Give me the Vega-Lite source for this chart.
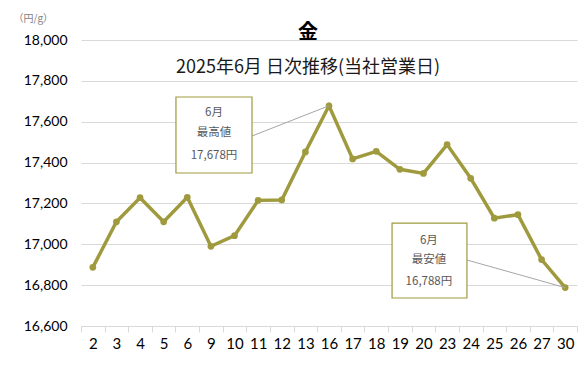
{
  "$schema": "https://vega.github.io/schema/vega-lite/v6.json",
  "width": 496,
  "height": 286,
  "autosize": {"type": "none"},
  "padding": {"left": 81, "top": 40, "right": 8, "bottom": 42},
  "background": "white",
  "config": {"view": {"stroke": null}, "font": "Lato"},
  "title": {
    "text": "金",
    "subtitle": "2025年6月 日次推移(当社営業日)",
    "anchor": "middle",
    "frame": "group",
    "dx": -21,
    "offset": -64,
    "font": "Noto Sans CJK JP",
    "fontSize": 20,
    "fontWeight": "bold",
    "color": "#000000",
    "subtitleFont": "Noto Sans CJK JP",
    "subtitleFontSize": 18,
    "subtitleColor": "#1a1a1a",
    "subtitlePadding": 16
  },
  "datasets": {
    "gold": [
      {"d": "2", "i": 0, "v": 16887},
      {"d": "3", "i": 1, "v": 17110},
      {"d": "4", "i": 2, "v": 17228},
      {"d": "5", "i": 3, "v": 17110},
      {"d": "6", "i": 4, "v": 17230},
      {"d": "9", "i": 5, "v": 16990},
      {"d": "10", "i": 6, "v": 17042},
      {"d": "11", "i": 7, "v": 17215},
      {"d": "12", "i": 8, "v": 17217},
      {"d": "13", "i": 9, "v": 17452},
      {"d": "16", "i": 10, "v": 17678},
      {"d": "17", "i": 11, "v": 17418},
      {"d": "18", "i": 12, "v": 17455},
      {"d": "19", "i": 13, "v": 17367},
      {"d": "20", "i": 14, "v": 17347},
      {"d": "23", "i": 15, "v": 17488},
      {"d": "24", "i": 16, "v": 17323},
      {"d": "25", "i": 17, "v": 17128},
      {"d": "26", "i": 18, "v": 17145},
      {"d": "27", "i": 19, "v": 16925},
      {"d": "30", "i": 20, "v": 16788}
    ],
    "boxes": [
      {"x1": 3.52, "x2": 6.74, "y1": 17721, "y2": 17349},
      {"x1": 12.67, "x2": 15.84, "y1": 17104, "y2": 16737}
    ],
    "leaders": [
      {"x1": 6.74, "y1": 17530, "x2": 10, "y2": 17678},
      {"x1": 15.84, "y1": 16923, "x2": 20, "y2": 16788}
    ],
    "notes": [
      {"x": 5.13, "y": 17643, "t": "6月"},
      {"x": 5.13, "y": 17545, "t": "最高値"},
      {"x": 5.13, "y": 17432, "t": "17,678円"},
      {"x": 14.23, "y": 17016, "t": "6月"},
      {"x": 14.23, "y": 16923, "t": "最安値"},
      {"x": 14.23, "y": 16815, "t": "16,788円"}
    ]
  },
  "resolve": {"axis": {"x": "independent"}},
  "layer": [
    {
      "data": {"name": "gold"},
      "mark": {"type": "line", "color": "#a09a3f", "strokeWidth": 3.5},
      "encoding": {
        "x": {
          "field": "i", "type": "quantitative",
          "scale": {"domain": [-0.5, 20.5], "nice": false, "zero": false},
          "axis": {
            "orient": "bottom",
            "values": [0,1,2,3,4,5,6,7,8,9,10,11,12,13,14,15,16,17,18,19,20],
            "labelExpr": "['2','3','4','5','6','9','10','11','12','13','16','17','18','19','20','23','24','25','26','27','30'][datum.value]",
            "ticks": false, "grid": false, "domain": true, "domainColor": "#d9d9d9", "domainWidth": 1,
            "labelFontSize": 15, "labelColor": "#000000", "labelPadding": 10, "title": null, "labelFont": "Lato"
          }
        },
        "y": {
          "field": "v", "type": "quantitative",
          "scale": {"domain": [16600, 18000], "nice": false, "zero": false},
          "axis": {
            "values": [16600, 16800, 17000, 17200, 17400, 17600, 17800, 18000],
            "labelExpr": "format(datum.value, ',')", "ticks": false, "domain": false,
            "grid": true, "gridColor": "#d9d9d9", "gridWidth": 1,
            "labelFontSize": 14, "labelColor": "#000000", "labelPadding": 14, "labelFont": "Lato",
            "title": "（円/g）", "titleAngle": 0, "titleAlign": "left", "titleBaseline": "middle",
            "titleX": -68, "titleY": -22, "titleFontSize": 10, "titleFontWeight": "normal",
            "titleColor": "#7f7f7f", "titleFont": "Noto Sans CJK JP"
          }
        }
      }
    },
    {
      "data": {"name": "gold"},
      "mark": {"type": "circle", "color": "#a09a3f", "opacity": 1, "size": 45},
      "encoding": {
        "x": {
          "field": "i", "type": "quantitative",
          "axis": {
            "orient": "bottom",
            "values": [-0.5,0.5,1.5,2.5,3.5,4.5,5.5,6.5,7.5,8.5,9.5,10.5,11.5,12.5,13.5,14.5,15.5,16.5,17.5,18.5,19.5,20.5],
            "labels": false, "ticks": true, "tickSize": 6, "tickColor": "#d9d9d9", "domain": false, "grid": false, "title": null
          }
        },
        "y": {"field": "v", "type": "quantitative"}
      }
    },
    {
      "data": {"name": "leaders"},
      "mark": {"type": "rule", "color": "#a6a6a6", "strokeWidth": 1},
      "encoding": {
        "x": {"field": "x1", "type": "quantitative", "axis": null},
        "x2": {"field": "x2"},
        "y": {"field": "y1", "type": "quantitative"},
        "y2": {"field": "y2"}
      }
    },
    {
      "data": {"name": "boxes"},
      "mark": {"type": "rect", "fill": "white", "stroke": "#a09a3f", "strokeWidth": 1.2},
      "encoding": {
        "x": {"field": "x1", "type": "quantitative", "axis": null},
        "x2": {"field": "x2"},
        "y": {"field": "y1", "type": "quantitative"},
        "y2": {"field": "y2"}
      }
    },
    {
      "data": {"name": "notes"},
      "mark": {"type": "text", "font": "Noto Sans CJK JP", "fontSize": 11.5, "color": "#595959", "align": "center", "baseline": "middle"},
      "encoding": {
        "x": {"field": "x", "type": "quantitative", "axis": null},
        "y": {"field": "y", "type": "quantitative"},
        "text": {"field": "t"}
      }
    }
  ]
}
